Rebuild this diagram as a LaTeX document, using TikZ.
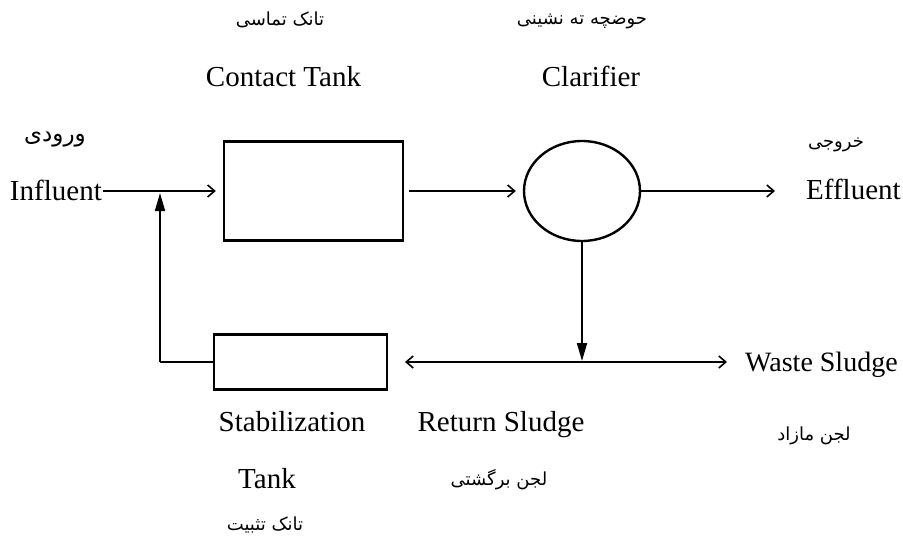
\documentclass[tikz,border=0pt]{standalone}
\usepackage{fontspec}
\setmainfont{Liberation Serif}
\newfontfamily\arabicfont[Script=Arabic]{DejaVu Sans}
\TeXXeTstate=1
\usetikzlibrary{arrows.meta,shapes.geometric}
\begin{document}
\begin{tikzpicture}[x=1pt,y=-1pt,
  lbl/.style={inner sep=0pt,font=\fontsize{29}{34}\selectfont},
  fa/.style={inner sep=0pt,font=\arabicfont\fontsize{18}{22}\selectfont},
  unit/.style={draw,line width=2.4pt,inner sep=0pt},
  flow/.style={line width=1.8pt,-{Straight Barb[length=7pt,width=12pt,line width=1.6pt]}},
  flow2/.style={line width=1.8pt,{Straight Barb[length=7pt,width=12pt,line width=1.6pt]}-{Straight Barb[length=7pt,width=12pt,line width=1.6pt]}},
  solid/.style={line width=1.8pt,-{Triangle[length=18pt,width=10pt]}}]
\useasboundingbox (0,0) rectangle (903,551);
% units
\node[unit,rectangle,minimum width=179pt,minimum height=99pt] (contact) at (313.5,191) {};
\node[unit,rectangle,minimum width=173pt,minimum height=55pt] (stab) at (300.5,362) {};
\node[unit,ellipse,minimum width=116pt,minimum height=100pt] (clar) at (582,191) {};
% labels
\node[lbl,anchor=base east] (infl) at (102,200) {Influent};
\node[lbl,anchor=base west] (effl) at (806,199) {Effluent};
\node[lbl,anchor=base west,font=\fontsize{28}{33}\selectfont] (waste) at (745,371) {Waste Sludge};
\node[lbl,anchor=base] (ctank) at (283.5,87) {Contact Tank};
\node[lbl,anchor=base] (clarl) at (591,87) {Clarifier};
\node[lbl,anchor=base] (stabl) at (292,431) {Stabilization};
\node[lbl,anchor=base] (tankl) at (267,488) {Tank};
\node[lbl,anchor=base] (retl) at (501,431) {Return Sludge};
\node[fa] (fa1) at (280,20) {\beginR تانک تماسی\endR};
\node[fa] (fa2) at (582,21) {\beginR حوضچه ته نشینی\endR};
\node[fa,font=\arabicfont\fontsize{23}{27}\selectfont] (fa3) at (55,140) {\beginR ورودی\endR};
\node[fa] (fa4) at (836,145) {\beginR خروجی\endR};
\node[fa] (fa5) at (814,436) {\beginR لجن مازاد\endR};
\node[fa] (fa6) at (499,480) {\beginR لجن برگشتی\endR};
\node[fa] (fa7) at (265,525) {\beginR تانک تثبیت\endR};
% junctions
\coordinate (j) at (160,191);
\coordinate (fb) at (160,362);
\coordinate (rl) at (405,362);
\coordinate (rr) at (727,362);
% connectors
\draw[flow,shorten <=1pt,shorten >=7pt] (infl.east |- contact.west) -- (contact.west);
\draw[line width=1.8pt] (stab.west) -- (fb);
\draw[solid,shorten >=2pt] (fb) -- (j);
\draw[flow,shorten <=5pt,shorten >=7pt] (contact.east) -- (clar.west);
\draw[flow,shorten >=31pt] (clar.east) -- (effl.west |- clar.east);
\draw[flow2] (rl) -- (rr);
\draw[solid,shorten >=1pt] (clar.south) -- (clar.south |- rl);
\end{tikzpicture}
\end{document}
